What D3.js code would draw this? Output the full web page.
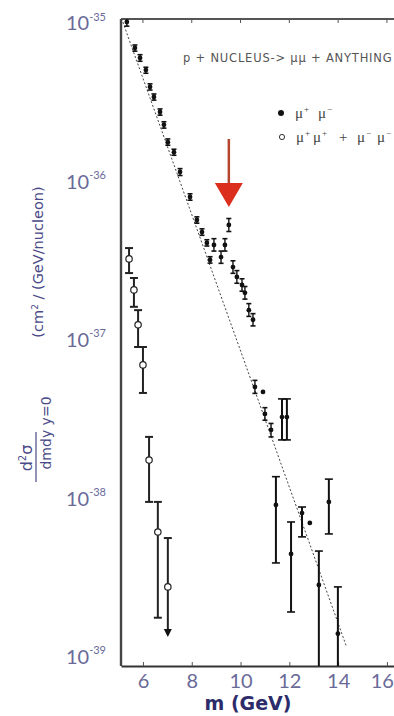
<!DOCTYPE html>
<html>
<head>
<meta charset="utf-8">
<script src="https://cdn.jsdelivr.net/npm/d3@7/dist/d3.min.js"></script>
<style>
  html, body { margin: 0; padding: 0; background: #fff; }
  svg { display: block; }
</style>
</head>
<body>
<svg id="chart" width="394" height="716"></svg>
<script>
// Opposite-sign dimuon pairs (mu+ mu-): mass (GeV) and cross section
const massPairs = [5.34, 5.67, 5.88, 6.12, 6.29, 6.45, 6.70, 6.86, 7.02, 7.27, 7.52, 7.93, 8.21, 8.42, 8.62, 8.75,
  8.91, 9.20, 9.36, 9.52, 9.69, 9.85, 10.06, 10.18, 10.34, 10.51,
  10.59, 10.92, 11.00, 11.25, 11.70, 11.90, 11.45, 12.07, 12.52, 12.84, 13.62, 13.21, 13.99];
const sigmaPairs = [1.062e-35, 7.28e-36, 6.30e-36, 5.28e-36, 4.13e-36, 3.57e-36, 2.87e-36, 2.38e-36, 1.85e-36, 1.60e-36, 1.20e-36, 8.34e-37, 5.97e-37, 5.01e-37, 4.28e-37, 3.34e-37,
  4.15e-37, 3.48e-37, 4.15e-37, 5.55e-37, 3.01e-37, 2.61e-37, 2.32e-37, 2.07e-37, 1.61e-37, 1.40e-37,
  5.27e-38, 4.90e-38, 3.56e-38, 2.82e-38, 3.40e-38, 3.40e-38, 9.48e-39, 4.65e-39, 8.43e-39, 7.30e-39, 9.91e-39, 2.96e-39, 1.46e-39];
const sigmaPairsHi = [1.12e-35, 7.6e-36, 6.6e-36, 5.5e-36, 4.32e-36, 3.73e-36, 3.0e-36, 2.49e-36, 1.94e-36, 1.67e-36, 1.26e-36, 8.74e-37, 6.25e-37, 5.25e-37, 4.48e-37, 3.50e-37,
  4.55e-37, 3.80e-37, 4.55e-37, 6.10e-37, 3.30e-37, 2.86e-37, 2.54e-37, 2.27e-37, 1.77e-37, 1.53e-37,
  5.8e-38, null, 3.9e-38, 3.1e-38, 4.43e-38, 4.43e-38, 1.43e-38, 7.40e-39, 9.20e-39, null, 1.38e-38, 4.85e-39, 2.88e-39];
const sigmaPairsLo = [1.0e-35, 6.95e-36, 6.0e-36, 5.04e-36, 3.95e-36, 3.41e-36, 2.74e-36, 2.27e-36, 1.77e-36, 1.53e-36, 1.14e-36, 7.96e-37, 5.70e-37, 4.78e-37, 4.09e-37, 3.19e-37,
  3.80e-37, 3.18e-37, 3.80e-37, 5.05e-37, 2.75e-37, 2.38e-37, 2.12e-37, 1.89e-37, 1.47e-37, 1.28e-37,
  4.8e-38, null, 3.25e-38, 2.55e-38, 2.44e-38, 2.44e-38, 4.08e-39, 2.00e-39, 5.96e-39, null, 6.22e-39, 8.0e-40, 8.0e-40];

// Like-sign dimuon pairs (mu+ mu+ + mu- mu-)
const massLike = [5.43, 5.63, 5.80, 6.00, 6.25, 6.61, 7.02];
const sigmaLike = [3.39e-37, 2.16e-37, 1.30e-37, 7.26e-38, 1.82e-38, 6.40e-39, 2.88e-39];
const sigmaLikeHi = [3.97e-37, 2.57e-37, 1.61e-37, 9.42e-38, 2.55e-38, 9.91e-39, 5.86e-39];
const sigmaLikeLo = [2.76e-37, 1.69e-37, 9.42e-38, 4.83e-38, 9.91e-39, 1.84e-39, 1.43e-39];
const likeUpperLimit = [false, false, false, false, false, false, true];

// Exponential continuum fit (straight line on the log scale)
const fitMass = [5.12, 14.35];
const fitSigma = [1.12e-35, 1.2e-39];

// Upsilon peak marked by the arrow
const peakMass = 9.52;
const peakSigma = 5.55e-37;

// Axis ticks
const xTicks = [6, 8, 10, 12, 14, 16];
const yTickExps = [-35, -36, -37, -38, -39];

const svg = d3.select("#chart");
const pLeft = 121, pRight = 394, pTop = 19, pBottom = 666;

const x = d3.scaleLinear().domain([5.1, 16.29]).range([pLeft, pRight]);
const y = d3.scaleLog().domain([Math.pow(10, -39.04), Math.pow(10, -34.955)]).range([pBottom, pTop]);

svg.append("defs").append("clipPath").attr("id", "plot")
  .append("rect").attr("x", pLeft).attr("y", pTop).attr("width", pRight - pLeft).attr("height", pBottom - pTop);

// Frame
svg.append("line").attr("x1", pLeft).attr("x2", pRight).attr("y1", pTop).attr("y2", pTop)
  .attr("stroke", "#555").attr("stroke-width", 2);
svg.append("line").attr("x1", pLeft).attr("x2", pLeft).attr("y1", pTop).attr("y2", pBottom)
  .attr("stroke", "#444").attr("stroke-width", 2.4);

// Bottom axis
const xAxis = d3.axisBottom(x).tickValues(xTicks).tickSizeInner(-4).tickSizeOuter(0).tickPadding(8)
  .tickFormat(d3.format("d"));
const gx = svg.append("g").attr("transform", `translate(0,${pBottom})`).call(xAxis);
gx.select(".domain").attr("stroke", "#333").attr("stroke-width", 2);
gx.selectAll(".tick line").attr("stroke", "#555");
gx.selectAll(".tick text").attr("font-family", "Lato, 'DejaVu Sans', sans-serif")
  .attr("font-size", 20).attr("fill", "#6a6a98");
// the last label sits at the right edge of the page; keep it fully inside
gx.selectAll(".tick text").filter(d => d === 16).attr("text-anchor", "end").attr("x", 6.5);

// Small ticks on the top edge
svg.append("g").selectAll("line").data(xTicks).join("line")
  .attr("x1", d => x(d)).attr("x2", d => x(d)).attr("y1", pTop).attr("y2", pTop + 4)
  .attr("stroke", "#555");

// Left axis labels: powers of ten
const yAxis = d3.axisLeft(y).tickValues(yTickExps.map(e => Math.pow(10, e))).tickSize(0).tickPadding(14)
  .tickFormat("");
const gy = svg.append("g").attr("transform", `translate(${pLeft},0)`).call(yAxis);
gy.select(".domain").remove();
gy.selectAll(".tick").each(function (d) {
  const t = d3.select(this).append("text")
    .attr("x", -15).attr("dy", "0.38em").attr("text-anchor", "end")
    .attr("font-family", "Lato, 'DejaVu Sans', sans-serif").attr("fill", "#6a6a98");
  t.append("tspan").attr("font-size", 20).text("10");
  t.append("tspan").attr("font-size", 11).attr("dy", "-0.9em").text("-" + Math.round(-Math.log10(d)));
});

// Axis titles
svg.append("text").attr("x", 248).attr("y", 710).attr("text-anchor", "middle")
  .attr("font-family", "'DejaVu Sans', sans-serif").attr("font-weight", "bold")
  .attr("font-size", 19).attr("fill", "#2c2c6a").text("m (GeV)");

const ttl = "#4a4a88";
svg.append("text").attr("transform", "translate(43,262) rotate(-90)").attr("text-anchor", "middle")
  .attr("font-family", "'DejaVu Sans', sans-serif").attr("font-size", 14.5).attr("fill", ttl)
  .call(t => {
    t.append("tspan").text("(cm");
    t.append("tspan").attr("font-size", 9).attr("dy", "-0.6em").text("2");
    t.append("tspan").attr("dy", "0.4em").text(" / (GeV/nucleon)");
  });
svg.append("text").attr("transform", "translate(32,458) rotate(-90)").attr("text-anchor", "middle")
  .attr("font-family", "'DejaVu Sans', sans-serif").attr("font-size", 16).attr("fill", ttl)
  .call(t => {
    t.append("tspan").text("d");
    t.append("tspan").attr("font-size", 10).attr("dy", "-0.6em").text("2");
    t.append("tspan").attr("dy", "0.4em").text("σ");
  });
svg.append("line").attr("x1", 36).attr("x2", 36).attr("y1", 432).attr("y2", 482)
  .attr("stroke", ttl).attr("stroke-width", 1.2);
svg.append("text").attr("transform", "translate(51,433) rotate(-90)").attr("text-anchor", "middle")
  .attr("font-family", "'DejaVu Sans', sans-serif").attr("font-size", 14).attr("fill", ttl)
  .text("dmdy y=0");

// Reaction label and legend
svg.append("text").attr("x", 183).attr("y", 62)
  .attr("font-family", "'DejaVu Sans', sans-serif").attr("font-size", 11.5).attr("letter-spacing", 0.8)
  .attr("fill", "#555")
  .text("p + NUCLEUS->  μμ + ANYTHING");

// legend entries: glyph runs with their own horizontal positions
function muText(parent, yPos, parts) {
  const t = parent.append("text").attr("y", yPos)
    .attr("font-family", "'Liberation Serif', serif").attr("font-size", 15).attr("fill", "#444");
  parts.forEach(p => {
    t.append("tspan").attr("x", p[0]).attr("y", p[2] ? yPos - 6 : yPos)
      .attr("font-size", p[2] ? 9 : 15).text(p[1]);
  });
}
svg.append("circle").attr("cx", 281).attr("cy", 113).attr("r", 3).attr("fill", "#111");
muText(svg, 118, [[295, "μ"], [304, "+", true], [318, "μ"], [327, "−", true]]);
svg.append("circle").attr("cx", 282).attr("cy", 137).attr("r", 2.6)
  .attr("fill", "#fff").attr("stroke", "#333").attr("stroke-width", 1);
muText(svg, 142, [[296, "μ"], [305, "+", true], [313, "μ"], [322, "+", true], [339, "+"],
  [357, "μ"], [366, "−", true], [377, "μ"], [386, "−", true]]);

const plot = svg.append("g").attr("clip-path", "url(#plot)");

// Continuum fit line
plot.append("path")
  .datum(fitMass.map((m, i) => [m, fitSigma[i]]))
  .attr("d", d3.line().x(d => x(d[0])).y(d => y(d[1])))
  .attr("fill", "none").attr("stroke", "#444").attr("stroke-width", 1)
  .attr("stroke-dasharray", "2,2");

// Opposite-sign pairs
const pairs = massPairs.map((m, i) => ({ m, s: sigmaPairs[i], hi: sigmaPairsHi[i], lo: sigmaPairsLo[i] }));
const pg = plot.append("g").attr("stroke", "#111").attr("stroke-width", 1.6);
pairs.filter(d => d.hi !== null).forEach(d => {
  const cx = x(d.m);
  const len = y(d.lo) - y(d.hi);
  const cw = len > 20 ? 4 : 2.5;
  pg.append("line").attr("x1", cx).attr("x2", cx).attr("y1", y(d.hi)).attr("y2", y(d.lo))
    .attr("stroke-width", len > 20 ? 2 : 1.4);
  pg.append("line").attr("x1", cx - cw).attr("x2", cx + cw).attr("y1", y(d.hi)).attr("y2", y(d.hi));
  pg.append("line").attr("x1", cx - cw).attr("x2", cx + cw).attr("y1", y(d.lo)).attr("y2", y(d.lo));
});
plot.append("g").selectAll("circle").data(pairs).join("circle")
  .attr("cx", d => x(d.m)).attr("cy", d => y(d.s)).attr("r", 2.4).attr("fill", "#111");

// Like-sign pairs
const like = massLike.map((m, i) => ({ m, s: sigmaLike[i], hi: sigmaLikeHi[i], lo: sigmaLikeLo[i], lim: likeUpperLimit[i] }));
const lg = plot.append("g").attr("stroke", "#222").attr("stroke-width", 2);
const capW = 4;
like.forEach(d => {
  const cx = x(d.m);
  lg.append("line").attr("x1", cx).attr("x2", cx).attr("y1", y(d.hi)).attr("y2", y(d.lo));
  lg.append("line").attr("x1", cx - capW).attr("x2", cx + capW).attr("y1", y(d.hi)).attr("y2", y(d.hi));
  if (d.lim) {
    plot.append("path")
      .attr("d", `M${cx - 4},${y(d.lo) - 6}L${cx + 4},${y(d.lo) - 6}L${cx},${y(d.lo) + 2}Z`)
      .attr("fill", "#111");
  } else {
    lg.append("line").attr("x1", cx - capW).attr("x2", cx + capW).attr("y1", y(d.lo)).attr("y2", y(d.lo));
  }
});
plot.append("g").selectAll("circle").data(like).join("circle")
  .attr("cx", d => x(d.m)).attr("cy", d => y(d.s)).attr("r", 3.2)
  .attr("fill", "#fff").attr("stroke", "#222").attr("stroke-width", 1.2);

// Arrow pointing at the upsilon peak
const ax = x(peakMass), tipY = y(peakSigma) - 18;
svg.append("line").attr("x1", ax).attr("x2", ax).attr("y1", tipY - 68).attr("y2", tipY - 20)
  .attr("stroke", "#b5452e").attr("stroke-width", 2.5);
svg.append("path")
  .attr("d", `M${ax - 14},${tipY - 24}L${ax + 14},${tipY - 24}L${ax},${tipY}Z`)
  .attr("fill", "#dc2e1c");
</script>
</body>
</html>
